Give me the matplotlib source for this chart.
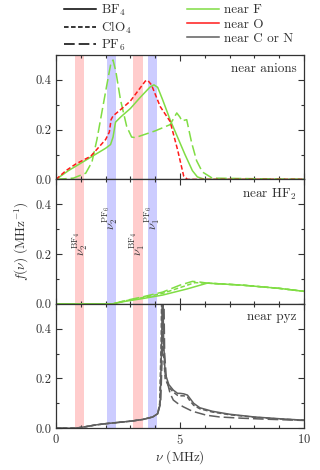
import numpy as np
import matplotlib
matplotlib.use("Agg")
import matplotlib.pyplot as plt
from matplotlib.lines import Line2D
from matplotlib.ticker import MultipleLocator

plt.rcParams['font.family'] = 'serif'
plt.rcParams['font.serif'] = ['cmr10', 'DejaVu Serif']
plt.rcParams['mathtext.fontset'] = 'cm'
plt.rcParams['axes.formatter.use_mathtext'] = True
plt.rcParams['axes.unicode_minus'] = False

# ---------------- data ----------------
# Panel 1: near anions
bf4_F_x = [0, 0.5, 1.0, 1.5, 2.0, 2.2, 2.3, 2.4, 2.6, 3.0, 3.4, 3.8, 3.95, 4.1, 4.3, 4.6, 4.9, 5.2, 5.5, 5.7, 6.0, 10]
bf4_F_y = [0, 0.035, 0.065, 0.095, 0.125, 0.14, 0.17, 0.23, 0.25, 0.285, 0.33, 0.372, 0.38, 0.37, 0.32, 0.24, 0.17, 0.1, 0.035, 0.01, 0, 0]

clo4_O_x = [0, 0.4, 0.8, 1.4, 2.0, 2.15, 2.22, 2.3, 2.6, 3.0, 3.3, 3.6, 3.7, 3.85, 4.2, 4.6, 4.9, 5.15, 5.3, 10]
clo4_O_y = [0, 0.035, 0.062, 0.093, 0.16, 0.19, 0.24, 0.255, 0.28, 0.315, 0.355, 0.395, 0.398, 0.38, 0.293, 0.233, 0.12, 0.013, 0, 0]

pf6_F_x = [0, 0.7, 1.2, 1.45, 1.65, 1.85, 2.05, 2.2, 2.3, 2.42, 2.6, 2.85, 3.05, 3.2, 4.0, 4.6, 4.87, 5.0, 5.07, 5.27, 5.47, 5.67, 5.9, 6.3, 10]
pf6_F_y = [0, 0.005, 0.025, 0.07, 0.16, 0.27, 0.38, 0.46, 0.48, 0.43, 0.32, 0.213, 0.17, 0.168, 0.195, 0.22, 0.267, 0.25, 0.235, 0.24, 0.147, 0.075, 0.03, 0.005, 0]

# Panel 2: near HF2
hf2_bf4_x = [0, 2.3, 2.8, 3.5, 4.3, 5.3, 6.1, 7.5, 9.0, 10]
hf2_bf4_y = [0, 0, 0.01, 0.021, 0.035, 0.06, 0.083, 0.075, 0.062, 0.05]
hf2_clo4_x = [0, 2.3, 2.8, 3.5, 4.3, 5.0, 5.6, 6.1, 7.5, 9.0, 10]
hf2_clo4_y = [0, 0, 0.012, 0.025, 0.042, 0.065, 0.085, 0.083, 0.075, 0.062, 0.05]
hf2_pf6_x = [0, 2.3, 2.8, 3.5, 4.3, 5.0, 5.5, 5.75, 6.1, 7.5, 9.0, 10]
hf2_pf6_y = [0, 0, 0.013, 0.028, 0.047, 0.075, 0.09, 0.088, 0.083, 0.075, 0.062, 0.05]

# Panel 3: near pyz
pyz_bf4_x = [0, 0.8, 1.2, 1.6, 2.0, 2.5, 3.0, 3.5, 3.9, 4.1, 4.2, 4.26, 4.3, 4.34, 4.4, 4.55, 4.73, 4.9, 5.0, 5.15, 5.3, 5.4, 5.55, 5.8, 6.3, 7.0, 8.0, 9.0, 10]
pyz_bf4_y = [0, 0, 0.006, 0.013, 0.018, 0.023, 0.028, 0.035, 0.045, 0.058, 0.1, 0.35, 0.62, 0.35, 0.22, 0.175, 0.153, 0.14, 0.14, 0.138, 0.133, 0.12, 0.1, 0.082, 0.068, 0.056, 0.045, 0.038, 0.032]
pyz_clo4_x = [0, 0.8, 1.2, 1.6, 2.0, 2.5, 3.0, 3.5, 3.9, 4.1, 4.18, 4.24, 4.27, 4.32, 4.4, 4.55, 4.73, 4.9, 5.0, 5.15, 5.3, 5.4, 5.55, 5.8, 6.3, 7.0, 8.0, 9.0, 10]
pyz_clo4_y = [0, 0, 0.006, 0.013, 0.018, 0.023, 0.028, 0.035, 0.045, 0.058, 0.1, 0.35, 0.62, 0.33, 0.2, 0.165, 0.145, 0.132, 0.13, 0.13, 0.125, 0.11, 0.092, 0.078, 0.065, 0.054, 0.044, 0.037, 0.032]
pyz_pf6_x = [0, 0.8, 1.2, 1.6, 2.0, 2.5, 3.0, 3.5, 3.9, 4.1, 4.22, 4.3, 4.34, 4.38, 4.45, 4.6, 4.73, 4.9, 5.13, 5.5, 6.07, 6.6, 7.5, 8.5, 10]
pyz_pf6_y = [0, 0, 0.006, 0.013, 0.018, 0.023, 0.028, 0.035, 0.045, 0.058, 0.1, 0.35, 0.62, 0.3, 0.2, 0.14, 0.113, 0.1, 0.086, 0.068, 0.052, 0.045, 0.04, 0.036, 0.031]

# bands (MHz): (low, high, colour key)
bands = [(0.77, 1.13, 'pink'), (2.04, 2.42, 'blue'), (3.12, 3.5, 'pink'), (3.7, 4.08, 'blue')]
band_labels = [r'$\nu_2^{\mathrm{BF}_4}$', r'$\nu_2^{\mathrm{PF}_6}$', r'$\nu_1^{\mathrm{BF}_4}$', r'$\nu_1^{\mathrm{PF}_6}$']
band_label_x = [0.97, 2.2, 3.27, 3.88]
band_label_y = [0.24, 0.345, 0.24, 0.345]

panel_titles = ['near anions', r'near HF$_2$', 'near pyz']

# ---------------- styling ----------------
GREEN = '#80dd44'
RED = '#ff1a1a'
GRAY = '#5f5f5f'
PINK = '#ffcccc'
BLUE = '#ccccff'
TXT = '#333333'
ls_bf4 = '-'
ls_clo4 = (0, (3.0, 1.6))
ls_pf6 = (0, (7.0, 2.6))
lw = 1.1

fig = plt.figure(figsize=(3.2, 4.7), dpi=100)
axes = fig.subplots(3, 1, sharex=True)
fig.subplots_adjust(left=0.175, right=0.95, top=0.883, bottom=0.089, hspace=0)

for ax in axes:
    for lo, hi, c in bands:
        ax.axvspan(lo, hi, color=PINK if c == 'pink' else BLUE, lw=0, zorder=0)

a1, a2, a3 = axes
a1.plot(pf6_F_x, pf6_F_y, color=GREEN, ls=ls_pf6, lw=lw)
a1.plot(bf4_F_x, bf4_F_y, color=GREEN, ls=ls_bf4, lw=lw)
a1.plot(clo4_O_x, clo4_O_y, color=RED, ls=ls_clo4, lw=lw)

a2.plot(hf2_bf4_x, hf2_bf4_y, color=GREEN, ls=ls_bf4, lw=lw)
a2.plot(hf2_clo4_x, hf2_clo4_y, color=GREEN, ls=ls_clo4, lw=lw)
a2.plot(hf2_pf6_x, hf2_pf6_y, color=GREEN, ls=ls_pf6, lw=lw)

a3.plot(pyz_bf4_x, pyz_bf4_y, color=GRAY, ls=ls_bf4, lw=lw)
a3.plot(pyz_clo4_x, pyz_clo4_y, color=GRAY, ls=ls_clo4, lw=lw)
a3.plot(pyz_pf6_x, pyz_pf6_y, color=GRAY, ls=ls_pf6, lw=lw)

for lab, x, y in zip(band_labels, band_label_x, band_label_y):
    a2.text(x, y, lab, rotation=90, ha='center', va='center', fontsize=9, color=TXT)

for ax, t in zip(axes, panel_titles):
    ax.set_xlim(0, 10)
    ax.set_ylim(0, 0.5)
    ax.set_yticks([0.0, 0.2, 0.4])
    ax.yaxis.set_minor_locator(MultipleLocator(0.1))
    ax.xaxis.set_major_locator(MultipleLocator(5))
    ax.xaxis.set_minor_locator(MultipleLocator(1))
    ax.tick_params(which='both', direction='in', top=True, right=True, colors=TXT, labelsize=9)
    ax.tick_params(which='major', length=4.5, width=0.8)
    ax.tick_params(which='minor', length=2.5, width=0.8)
    ax.yaxis.set_major_formatter(matplotlib.ticker.FormatStrFormatter('%.1f'))
    for s in ax.spines.values():
        s.set_color(TXT)
        s.set_linewidth(0.9)
    ax.text(0.97, 0.94, t, transform=ax.transAxes, ha='right', va='top', fontsize=9.5, color=TXT)

a3.set_xlabel(r'$\nu$ (MHz)', fontsize=9.5, color=TXT, labelpad=1)
a2.set_ylabel(r'$f(\nu)$ (MHz$^{-1}$)', fontsize=9.5, color=TXT, labelpad=3)

handles = [
    Line2D([], [], color='black', ls=ls_bf4, lw=lw),
    Line2D([], [], color='black', ls=ls_clo4, lw=lw),
    Line2D([], [], color='black', ls=ls_pf6, lw=lw),
    Line2D([], [], color=GREEN, lw=lw),
    Line2D([], [], color=RED, lw=lw),
    Line2D([], [], color=GRAY, lw=lw),
]
labels = [r'BF$_4$', r'ClO$_4$', r'PF$_6$', 'near F', 'near O', 'near C or N']
leg = fig.legend(handles, labels, ncol=2, loc='upper left', bbox_to_anchor=(0.18, 1.009),
                 frameon=False, fontsize=9.5, handlelength=2.4, columnspacing=4.2,
                 labelspacing=0.15, handletextpad=0.4, borderaxespad=0.1)
for t in leg.get_texts():
    t.set_color(TXT)

fig.savefig('out.png', dpi=100)
